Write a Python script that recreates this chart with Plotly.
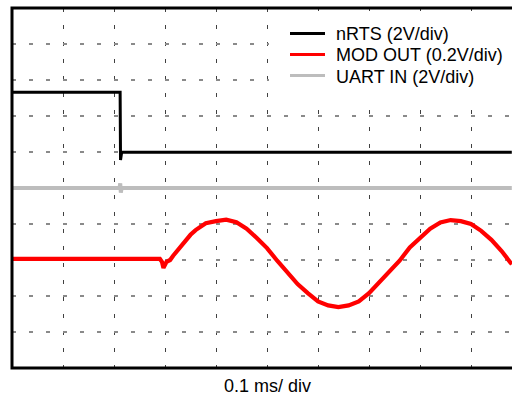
import plotly.graph_objects as go

# time axis in ms (0.1 ms/div), vertical axis in screen divisions
nrts_t = [0.0, 0.2120, 0.2128, 0.2136, 0.2150, 0.40, 0.60, 0.80, 0.98]
nrts_v = [2.66, 2.66, 0.78, 0.95, 0.99, 0.99, 0.99, 0.99, 0.99]

mod_t = [0.0, 0.10, 0.20, 0.290, 0.294, 0.297, 0.303, 0.310, 0.316, 0.322,
         0.330, 0.340, 0.350, 0.360, 0.380, 0.400, 0.420, 0.440, 0.460,
         0.480, 0.500, 0.520, 0.540, 0.560, 0.580, 0.600, 0.620, 0.640,
         0.660, 0.680, 0.700, 0.720, 0.740, 0.760, 0.780, 0.800, 0.820,
         0.840, 0.860, 0.880, 0.900, 0.920, 0.940, 0.960, 0.980]
mod_v = [-1.97, -1.97, -1.97, -1.97, -2.05, -2.22, -2.05, -2.00, -1.88, -1.78,
         -1.62, -1.45, -1.30, -1.17, -0.98, -0.92, -0.88, -0.95, -1.13,
         -1.39, -1.67, -2.02, -2.34, -2.67, -2.92, -3.15, -3.26, -3.31,
         -3.26, -3.15, -2.92, -2.62, -2.31, -2.02, -1.65, -1.38, -1.13,
         -0.96, -0.89, -0.92, -1.00, -1.19, -1.44, -1.75, -2.12]

uart_t = [0.0, 0.2110, 0.2122, 0.2134, 0.2150, 0.50, 0.98]
uart_v = [0.0, 0.0, 0.13, -0.13, 0.0, 0.0, 0.0]

names = ["nRTS (2V/div)", "MOD OUT (0.2V/div)", "UART IN (2V/div)"]
colors = ["#000000", "#ff0000", "#bdbdbd"]
widths = [3, 4.2, 4]
xlabel = "0.1 ms/ div"

FONT = "Liberation Sans, Arial, Helvetica, sans-serif"
FS = 18
W, H = 512, 398
L, T, B = 12, 8, 30
PW, PH = W - L, H - T - B


def px(x):
    return (x - L) / PW


def py(y):
    return (H - B - y) / PH


fig = go.Figure()
for t, v, n, c, w in zip([nrts_t, mod_t, uart_t], [nrts_v, mod_v, uart_v],
                         names, colors, widths):
    fig.add_trace(go.Scatter(x=t, y=v, mode="lines", name=n,
                             line=dict(color=c, width=w)))

shapes = [
    # white box behind the key
    dict(type="rect", xref="paper", yref="paper",
         x0=px(269), x1=1.1, y0=py(106), y1=py(11),
         fillcolor="white", line=dict(width=0), layer="above"),
    # frame
    dict(type="rect", xref="paper", yref="paper",
         x0=0, x1=1.2, y0=0, y1=1,
         line=dict(color="black", width=3), layer="above"),
]
annotations = [dict(text=xlabel, x=0.5, xref="x", y=py(386), yref="paper",
                    yanchor="middle", showarrow=False,
                    font=dict(family=FONT, size=FS))]

key_y = [33.5, 54.5, 75.5]
for n, c, ky in zip(names, colors, key_y):
    shapes.append(dict(type="line", xref="paper", yref="paper",
                       x0=px(290), x1=px(325), y0=py(ky), y1=py(ky),
                       line=dict(color=c, width=3), layer="above"))
    annotations.append(dict(text=n, x=px(334), y=py(ky + 1.0),
                            xref="paper", yref="paper",
                            xanchor="left", yanchor="middle",
                            showarrow=False,
                            font=dict(family=FONT, size=FS)))

fig.update_layout(
    width=W, height=H,
    margin=dict(l=L, r=0, t=T, b=B),
    paper_bgcolor="white", plot_bgcolor="white",
    font=dict(family=FONT, size=FS, color="black"),
    showlegend=False,
    xaxis=dict(range=[0, 500 / 510], dtick=0.1, tick0=0,
               showgrid=True, gridcolor="#404040", gridwidth=1.3,
               griddash="4px,13px", zeroline=False, showline=False,
               showticklabels=False, ticks=""),
    yaxis=dict(range=[-5, 5], dtick=1, tick0=0,
               showgrid=True, gridcolor="#8a8a8a", gridwidth=1.5,
               griddash="4px,13px", zeroline=False, showline=False,
               showticklabels=False, ticks=""),
    shapes=shapes,
    annotations=annotations,
)

fig.write_html("out.html")
